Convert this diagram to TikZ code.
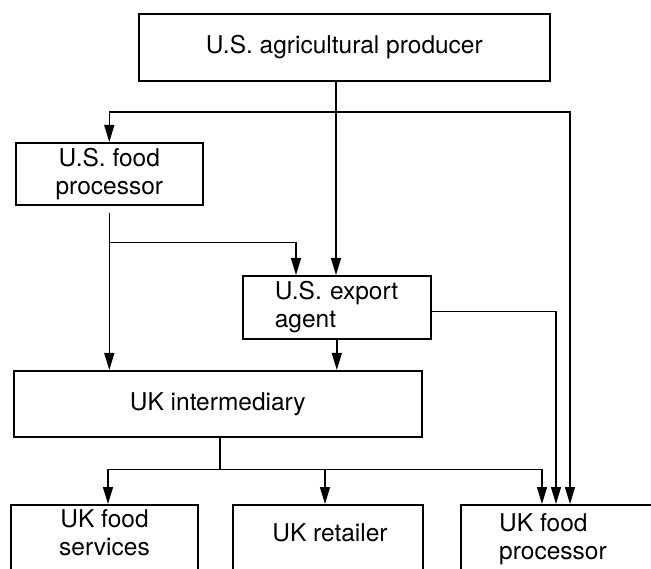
\documentclass[tikz,border=0pt]{standalone}
\usepackage{fontspec}
\setmainfont{TeX Gyre Heros}
\usetikzlibrary{arrows.meta,calc}
\begin{document}
\begin{tikzpicture}[x=1pt,y=-1pt,
  box/.style={draw, line width=1.6pt, anchor=north west, inner sep=0pt,
    font=\fontsize{24.5}{28}\selectfont, align=center},
  txt/.style={inner sep=0pt, font=\fontsize{24.5}{28}\selectfont},
  link/.style={line width=1.4pt},
  arr/.style={link, -{Triangle[length=17pt,width=10pt]}}]
\useasboundingbox (0,0) rectangle (651,569);
\clip (0,0) rectangle (651,569);
% boxes
\node[box, minimum width=411pt, minimum height=67pt] (top) at (138,13) {U.S. agricultural producer};
\node[box, minimum width=187pt, minimum height=62pt] (usfp) at (15,142) {U.S. food\\processor};
\node[box, minimum width=188pt, minimum height=63pt, text width=124pt, align=left] (exp) at (242,275) {U.S. export\\agent};
\node[box, minimum width=408pt, minimum height=66pt] (ukint) at (13,370) {UK intermediary};
\node[box, minimum width=187pt, minimum height=80pt] (ukfs) at (10,504) {};
\node[box, minimum width=190pt, minimum height=80pt] (ukret) at (232,504) {};
\node[box, minimum width=260pt, minimum height=80pt] (ukfp) at (460,504) {};
% texts of the cut-off boxes
\node[txt, align=center, anchor=north] (tfs) at (104.5,509) {UK food\\services};
\node[txt, anchor=base] (tret) at (330,541) {UK retailer};
\node[txt, align=left, anchor=north west] (tfp) at (499,513) {UK food\\processor};
% junctions
\coordinate (j1) at (336,112);
\coordinate (j2) at ($(usfp.south)+(0,37)$);
\coordinate (j3) at ($(ukint.south)+(2,32)$);
% connectors
\draw[arr] (top.south -| j1) -- (exp.north -| j1);
\draw[arr] (j1) -| (usfp.north);
\draw[arr] (j1) -| ($(ukfp.north west)+(110,0)$);
\draw[arr, shorten <=7pt] (usfp.south) -- (usfp.south |- ukint.north);
\draw[arr] (j2) -| ($(exp.north west)+(54,0)$);
\draw[arr] (exp.south) -- (exp.south |- ukint.north);
\draw[arr] ($(exp.east)+(0,4.5)$) -| ($(ukfp.north west)+(96,0)$);
\draw[link] ($(ukint.south)+(2,0)$) -- (j3);
\draw[arr] (j3) -| ($(ukfs.north west)+(98,0)$);
\draw[arr] (j3) -| ($(ukret.north west)+(93,0)$);
\draw[arr] (j3) -| ($(ukfp.north west)+(82,0)$);
\end{tikzpicture}
\end{document}
